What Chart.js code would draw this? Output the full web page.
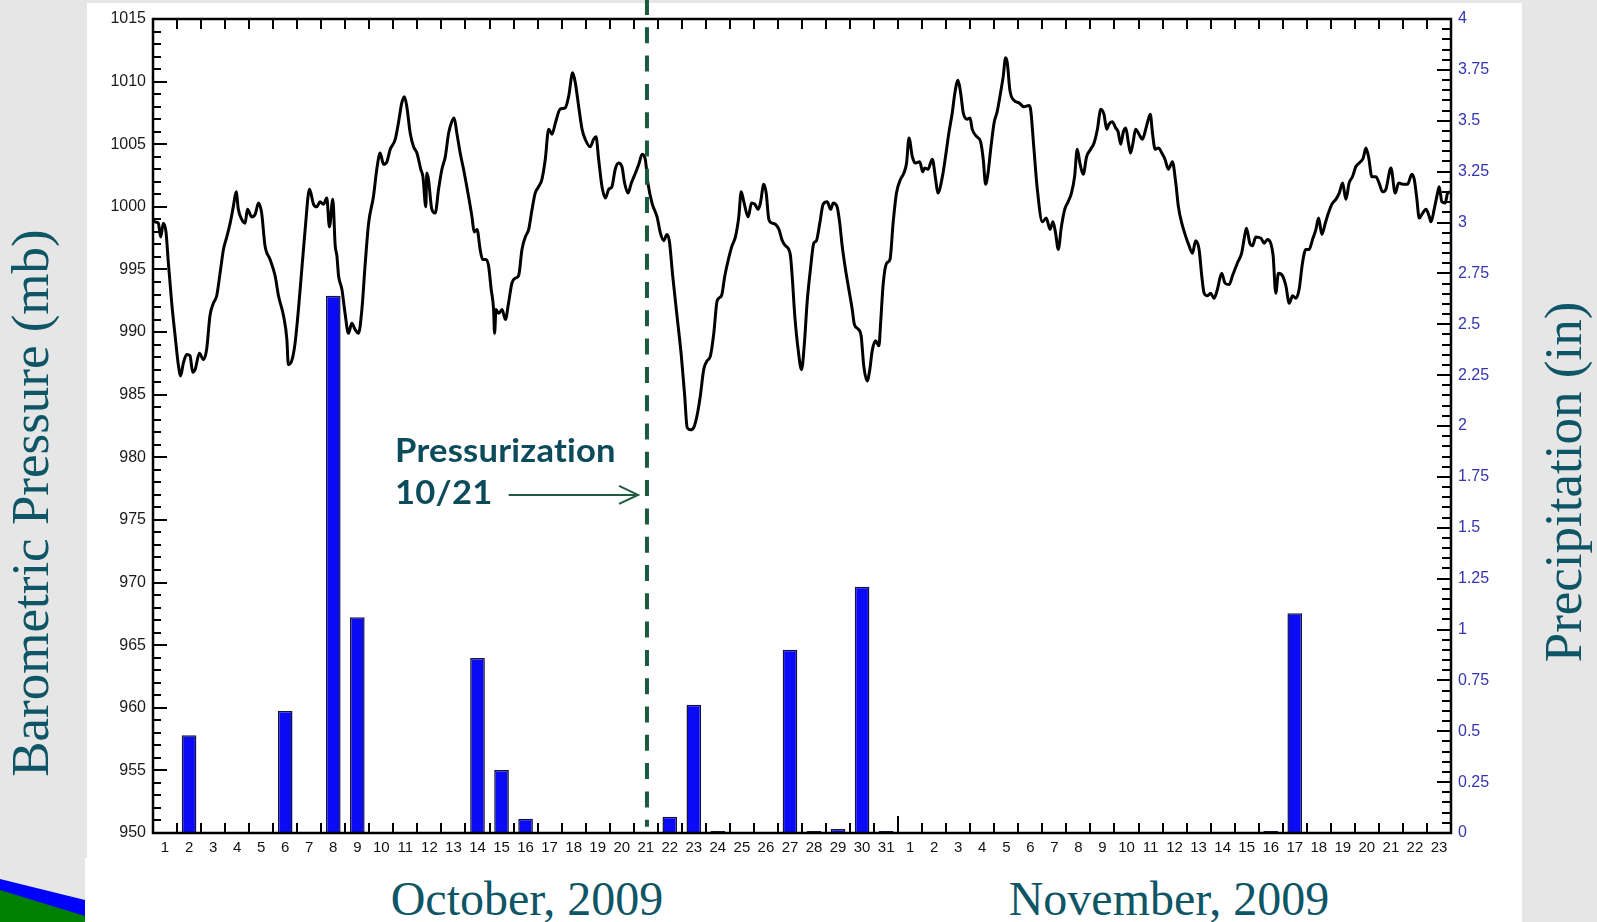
<!DOCTYPE html>
<html>
<head>
<meta charset="utf-8">
<title>Barometric Pressure and Precipitation, Oct–Nov 2009</title>
<script src="https://cdn.jsdelivr.net/npm/chart.js@4.4.1/dist/chart.umd.min.js"></script>
<style>
  html, body { margin: 0; padding: 0; background: #e6e6e6; }
  #wrap { position: relative; width: 1597px; height: 922px; overflow: hidden; }
  #bg, #c { position: absolute; left: 0; top: 0; }
</style>
</head>
<body>
<div id="wrap">
  <svg id="bg" width="1597" height="922">
    <rect width="1597" height="922" fill="#e6e6e6"/>
    <rect x="87" y="3" width="1435" height="919" fill="#ffffff"/>
    <rect x="85" y="858" width="4" height="64" fill="#ffffff"/>
    <polygon points="0,879 85,900 85,922 0,922" fill="#0000ff"/>
    <polygon points="0,890 85,916 85,922 0,922" fill="#008000"/>
    <g font-family="'Liberation Serif', 'Times New Roman', serif" fill="#0e5566">
      <text x="48" y="503" font-size="53" text-anchor="middle" transform="rotate(-90 48 503)">Barometric Pressure (mb)</text>
      <text x="1581" y="482" font-size="53" text-anchor="middle" transform="rotate(-90 1581 482)">Precipitation (in)</text>
      <text x="527" y="915" font-size="48" text-anchor="middle">October, 2009</text>
      <text x="1169" y="915" font-size="48" text-anchor="middle">November, 2009</text>
    </g>
  </svg>
  <canvas id="c" width="1597" height="922"></canvas>
</div>
<script>
// Day-of-month labels along the bottom axis: October 1–31, then November 1–23
const dayLabels = [
  '1','2','3','4','5','6','7','8','9','10','11','12','13','14','15','16','17','18','19','20',
  '21','22','23','24','25','26','27','28','29','30','31',
  '1','2','3','4','5','6','7','8','9','10','11','12','13','14','15','16','17','18','19','20',
  '21','22','23'
];

// Barometric pressure record: time in days since Oct 1 00:00, pressure in mb
const pressureDay = [
  0.00,0.08,0.22,0.32,0.43,0.54,0.64,0.78,0.92,1.06,1.15,1.26,1.40,1.54,1.65,1.75,1.93,2.10,2.23,2.37,
  2.51,2.65,2.79,2.93,3.07,3.21,3.34,3.46,3.55,3.69,3.83,3.93,4.11,4.25,4.39,4.52,4.66,4.87,5.08,5.22,
  5.43,5.57,5.63,5.77,5.91,6.05,6.19,6.33,6.51,6.68,6.81,6.95,7.09,7.23,7.34,7.48,7.58,7.65,7.72,7.86,
  7.99,8.13,8.27,8.41,8.55,8.69,8.83,8.97,9.17,9.31,9.45,9.59,9.73,9.87,10.08,10.21,10.35,10.46,10.56,10.70,
  10.84,10.98,11.14,11.23,11.35,11.39,11.46,11.60,11.74,11.88,12.02,12.16,12.30,12.43,12.53,12.64,12.78,12.92,13.13,13.27,
  13.36,13.48,13.61,13.71,13.85,13.96,14.07,14.17,14.21,14.27,14.38,14.52,14.66,14.79,14.93,15.07,15.21,15.35,15.49,15.63,
  15.77,15.90,16.04,16.18,16.32,16.46,16.60,16.74,16.94,17.15,17.29,17.46,17.57,17.71,17.85,17.98,18.19,18.33,18.43,18.54,
  18.68,18.82,18.96,19.09,19.23,19.37,19.51,19.62,19.76,19.90,20.07,20.21,20.35,20.48,20.59,20.76,20.97,21.11,21.25,21.38,
  21.48,21.62,21.80,21.98,22.12,22.22,22.36,22.50,22.63,22.77,22.91,23.05,23.19,23.33,23.47,23.65,23.79,23.95,24.09,24.23,
  24.37,24.47,24.58,24.76,24.90,25.04,25.17,25.27,25.41,25.51,25.62,25.76,25.90,26.04,26.18,26.31,26.45,26.52,26.59,26.70,
  26.84,26.98,27.10,27.21,27.35,27.49,27.60,27.74,27.88,28.05,28.19,28.30,28.46,28.57,28.67,28.81,28.95,29.09,29.18,29.36,
  29.46,29.57,29.71,29.82,29.92,30.06,30.20,30.27,30.38,30.52,30.66,30.79,30.93,31.10,31.24,31.35,31.45,31.59,31.72,31.90,
  32.02,32.10,32.24,32.42,32.56,32.65,32.84,32.97,33.11,33.25,33.36,33.49,33.60,33.71,33.87,33.99,34.08,34.27,34.43,34.54,
  34.64,34.74,34.85,34.99,35.12,35.26,35.37,35.47,35.54,35.65,35.82,36.03,36.23,36.44,36.51,36.65,36.79,37.00,37.16,37.32,
  37.44,37.55,37.66,37.79,37.93,38.07,38.21,38.34,38.45,38.56,38.70,38.84,39.01,39.15,39.29,39.43,39.56,39.68,39.77,39.91,
  40.05,40.15,40.26,40.37,40.47,40.58,40.67,40.77,40.88,41.02,41.16,41.30,41.41,41.49,41.58,41.69,41.83,41.97,42.10,42.24,
  42.41,42.55,42.66,42.80,42.97,43.10,43.24,43.38,43.52,43.63,43.73,43.87,44.00,44.14,44.28,44.46,44.60,44.77,44.91,45.11,
  45.29,45.39,45.49,45.63,45.74,45.88,46.09,46.23,46.36,46.50,46.60,46.71,46.82,46.99,47.13,47.27,47.41,47.55,47.68,47.82,
  47.96,48.10,48.24,48.38,48.49,48.63,48.77,48.90,49.04,49.21,49.35,49.49,49.63,49.76,49.90,50.04,50.18,50.35,50.46,50.57,
  50.71,50.87,51.01,51.15,51.29,51.50,51.68,51.82,51.99,52.19,52.37,52.47,52.57,52.68,52.82,52.96,53.10,53.17,53.30,53.44,
  53.51,53.62,53.76,53.86,54.00
];
const pressureMb = [
  998.9,998.8,998.7,997.6,998.7,998.0,995.5,992.3,989.7,987.3,986.5,987.5,988.2,988.1,986.8,987.0,988.3,987.8,988.6,991.3,
  992.3,992.9,994.7,996.6,997.6,998.7,1000.0,1001.2,999.8,999.0,998.7,999.8,999.2,999.4,1000.3,999.5,996.9,995.8,994.5,992.9,
  991.3,989.4,987.4,987.7,989.1,991.8,995.0,998.2,1001.4,1000.2,1000.0,1000.4,1000.2,1000.7,998.4,1000.6,996.9,996.1,994.5,993.4,
  991.5,989.9,990.7,990.2,989.9,991.8,995.5,998.7,1000.8,1003.0,1004.3,1003.4,1003.6,1004.6,1005.4,1006.7,1008.3,1008.8,1008.0,1005.9,
  1004.8,1004.3,1003.0,1002.4,1000.0,1002.7,1002.2,999.8,999.5,1001.4,1003.0,1004.0,1005.9,1006.8,1007.1,1005.9,1004.3,1003.0,1000.8,999.2,
  998.0,998.2,996.6,995.8,995.8,995.3,993.4,991.8,989.9,991.8,991.5,991.8,991.0,992.3,993.9,994.3,994.5,996.6,997.6,998.2,
  999.8,1001.1,1001.6,1002.2,1003.8,1006.2,1005.8,1006.7,1007.8,1007.9,1008.8,1010.7,1009.9,1008.0,1006.2,1005.4,1004.8,1005.4,1005.6,1003.8,
  1001.6,1000.7,1001.4,1001.6,1003.0,1003.5,1003.2,1001.9,1001.1,1001.9,1002.7,1003.4,1004.2,1003.8,1001.9,1000.3,999.2,997.9,997.3,997.8,
  997.3,994.5,991.3,988.1,984.9,982.4,982.2,982.4,983.3,984.9,987.0,987.7,988.1,989.9,992.5,992.9,994.5,995.9,996.9,997.6,
  999.2,1001.2,1000.4,999.2,1000.3,1000.2,999.8,1000.3,1001.8,1001.1,999.0,998.7,998.6,998.2,997.3,996.9,996.6,996.1,994.5,991.3,
  988.6,987.0,989.1,992.3,995.0,997.1,997.3,998.7,1000.2,1000.4,999.8,1000.3,1000.0,998.7,996.9,995.0,993.4,991.8,990.6,990.2,
  989.7,987.3,986.1,987.0,988.5,989.3,988.9,990.7,993.9,995.5,995.8,998.7,1001.1,1002.2,1002.7,1003.5,1005.5,1004.0,1003.5,1003.6,
  1002.8,1003.1,1003.0,1003.8,1002.2,1001.1,1002.4,1004.0,1005.9,1007.5,1009.1,1010.1,1009.1,1007.5,1007.0,1007.1,1006.2,1005.6,1005.2,1003.8,
  1001.8,1002.7,1004.6,1006.7,1007.6,1009.1,1010.4,1011.9,1011.5,1009.3,1008.5,1008.3,1008.0,1008.1,1007.8,1004.6,1001.4,998.8,999.1,998.2,
  998.8,997.9,996.6,998.4,999.8,1000.4,1001.1,1002.4,1004.6,1003.5,1002.6,1004.0,1004.6,1005.1,1006.2,1007.8,1007.4,1006.2,1006.6,1006.8,
  1006.3,1006.0,1005.0,1006.0,1006.3,1005.1,1004.3,1005.1,1006.2,1005.8,1005.4,1006.2,1007.0,1007.4,1005.9,1004.6,1004.7,1004.3,1003.8,1003.0,
  1003.6,1001.9,1000.0,998.7,997.6,996.9,996.3,997.3,996.6,994.5,993.1,992.9,993.1,992.7,993.4,994.7,993.9,993.8,994.5,995.5,
  996.3,997.4,998.3,997.1,996.9,997.6,997.5,997.1,997.4,997.1,996.1,993.1,994.7,994.5,993.7,992.3,992.9,992.7,993.4,995.5,
  996.6,996.6,997.4,998.2,999.1,997.8,998.7,999.5,1000.2,1000.6,1001.1,1001.9,1000.6,1001.9,1002.4,1003.2,1003.5,1003.9,1004.7,1004.0,
  1002.4,1002.4,1001.9,1001.2,1001.4,1003.1,1001.1,1001.9,1001.8,1001.8,1002.6,1002.2,1000.8,999.1,999.5,999.8,999.2,998.8,999.8,1001.1,
  1001.6,1000.4,1000.3,1001.1,1001.2
];

// Daily precipitation totals (month/day, inches)
const rainDates  = ['10/2','10/6','10/8','10/9','10/14','10/15','10/16','10/22','10/23','10/24',
                    '10/27','10/28','10/29','10/30','10/31','11/16','11/17'];
const rainInches = [0.48, 0.60, 2.64, 1.06, 0.86, 0.31, 0.07, 0.08, 0.63, 0.01,
                    0.90, 0.01, 0.02, 1.21, 0.01, 0.01, 1.08];

// Axis tick values
const pressureTicks = [950,955,960,965,970,975,980,985,990,995,1000,1005,1010,1015];
const precipTicks   = [0,0.25,0.5,0.75,1,1.25,1.5,1.75,2,2.25,2.5,2.75,3,3.25,3.5,3.75,4];

// Pressurization event (day offset of 10/21 on the time axis)
const eventDay = 20.55;

// Place each rain total in its day slot
const monthOffset = { 10: 0, 11: 31 };
const rainSeries = dayLabels.map(() => null);
rainDates.forEach((s, i) => {
  const [m, d] = s.split('/').map(Number);
  rainSeries[monthOffset[m] + d - 1] = rainInches[i];
});

const frameAndMarks = {
  id: 'frameAndMarks',
  afterDatasetsDraw(chart) {
    const { ctx, chartArea: a, scales } = chart;
    const yL = scales.y, yR = scales.yP, xt = scales.xt;
    ctx.save();

    // inward tick marks on all four sides
    ctx.strokeStyle = '#000';
    ctx.lineWidth = 2;
    ctx.beginPath();
    for (let v = pressureTicks[0]; v <= pressureTicks[pressureTicks.length - 1]; v++) {
      const py = Math.round(yL.getPixelForValue(v));
      const len = v % 5 === 0 ? 14 : 8;
      ctx.moveTo(a.left, py); ctx.lineTo(a.left + len, py);
    }
    for (let i = 0; i <= 80; i++) {
      const py = Math.round(yR.getPixelForValue(i * 0.05));
      const len = i % 5 === 0 ? 14 : 9;
      ctx.moveTo(a.right, py); ctx.lineTo(a.right - len, py);
    }
    for (let i = 1; i < dayLabels.length; i++) {
      const px = Math.round(xt.getPixelForValue(i));
      const len = i === 31 ? 17 : 10;
      ctx.moveTo(px, a.bottom); ctx.lineTo(px, a.bottom - len);
      ctx.moveTo(px, a.top); ctx.lineTo(px, a.top + 10);
    }
    ctx.stroke();

    // plot frame
    ctx.lineWidth = 2.5;
    ctx.strokeRect(a.left, a.top, a.right - a.left, a.bottom - a.top);

    // dashed event marker
    const ex = xt.getPixelForValue(eventDay);
    ctx.strokeStyle = '#1b5a3c';
    ctx.lineWidth = 4;
    ctx.setLineDash([16, 12.3]);
    ctx.beginPath();
    ctx.moveTo(ex, -1);
    ctx.lineTo(ex, yL.getPixelForValue(950.5));
    ctx.stroke();
    ctx.setLineDash([]);

    // annotation text (slightly widened bold sans, no ligatures)
    ctx.fillStyle = '#0c4b5b';
    ctx.font = "bold 32px Lato, 'Open Sans', sans-serif";
    if ('letterSpacing' in ctx) ctx.letterSpacing = '0.2px';
    ctx.textBaseline = 'alphabetic';
    ctx.textAlign = 'left';
    const tx = xt.getPixelForValue(10.07);
    const drawWide = (txt, x, y) => {
      ctx.save();
      ctx.translate(x, y);
      ctx.scale(1.08, 1);
      ctx.fillText(txt, 0, 0);
      ctx.restore();
    };
    drawWide('Pressurization', tx, yL.getPixelForValue(979.6));
    drawWide('10/21', tx, yL.getPixelForValue(976.3));

    // arrow toward the marker
    const ay = yL.getPixelForValue(977.0);
    const ax0 = xt.getPixelForValue(14.80), ax1 = xt.getPixelForValue(20.18);
    ctx.strokeStyle = '#1e5b40';
    ctx.lineWidth = 2;
    ctx.beginPath();
    ctx.moveTo(ax0, ay); ctx.lineTo(ax1, ay);
    ctx.moveTo(ax1 - 19, ay - 9); ctx.lineTo(ax1, ay); ctx.lineTo(ax1 - 19, ay + 9);
    ctx.stroke();

    ctx.restore();
  }
};

const xFont = { family: "'Liberation Sans', Arial, sans-serif", size: 15 };
const yFont = { family: "'Liberation Sans', Arial, sans-serif", size: 16 };

new Chart(document.getElementById('c').getContext('2d'), {
  data: {
    labels: dayLabels,
    datasets: [
      {
        type: 'bar',
        label: 'Precipitation (in)',
        data: rainSeries,
        xAxisID: 'x',
        yAxisID: 'yP',
        backgroundColor: '#0a0af4',
        borderColor: '#14143c',
        borderWidth: 1.5,
        grouped: false,
        barPercentage: 0.61,
        categoryPercentage: 1,
        order: 2
      },
      {
        type: 'line',
        label: 'Barometric Pressure (mb)',
        data: pressureDay.map((d, i) => ({ x: d, y: pressureMb[i] })),
        xAxisID: 'xt',
        yAxisID: 'y',
        borderColor: '#000',
        borderWidth: 3,
        pointRadius: 0,
        cubicInterpolationMode: 'monotone',
        borderJoinStyle: 'round',
        borderCapStyle: 'round',
        order: 1
      }
    ]
  },
  options: {
    responsive: false,
    animation: false,
    devicePixelRatio: 1,
    layout: { padding: { top: 19, left: 0, right: 0, bottom: 0 } },
    plugins: { legend: { display: false }, tooltip: { enabled: false } },
    scales: {
      x: {
        type: 'category',
        position: 'bottom',
        offset: true,
        grid: { display: false, drawTicks: false },
        border: { display: false },
        ticks: { autoSkip: false, maxRotation: 0, minRotation: 0, padding: 6, color: '#111', font: xFont },
        afterFit(s) { s.height = 89; }
      },
      xt: { type: 'linear', display: false, min: 0, max: 54 },
      y: {
        type: 'linear',
        position: 'left',
        min: 950, max: 1015,
        afterBuildTicks(s) { s.ticks = pressureTicks.map(v => ({ value: v })); },
        grid: { display: false, drawTicks: false },
        border: { display: false },
        ticks: { padding: 7, color: '#1a1a1a', font: yFont, callback: v => String(v) },
        afterFit(s) { s.width = 153; }
      },
      yP: {
        type: 'linear',
        position: 'right',
        min: 0, max: 4,
        afterBuildTicks(s) { s.ticks = precipTicks.map(v => ({ value: v })); },
        grid: { display: false, drawTicks: false },
        border: { display: false },
        ticks: { padding: 7, color: '#3434b2', font: yFont, callback: v => String(v) },
        afterFit(s) { s.width = 146; }
      }
    }
  },
  plugins: [frameAndMarks]
});
</script>
</body>
</html>
